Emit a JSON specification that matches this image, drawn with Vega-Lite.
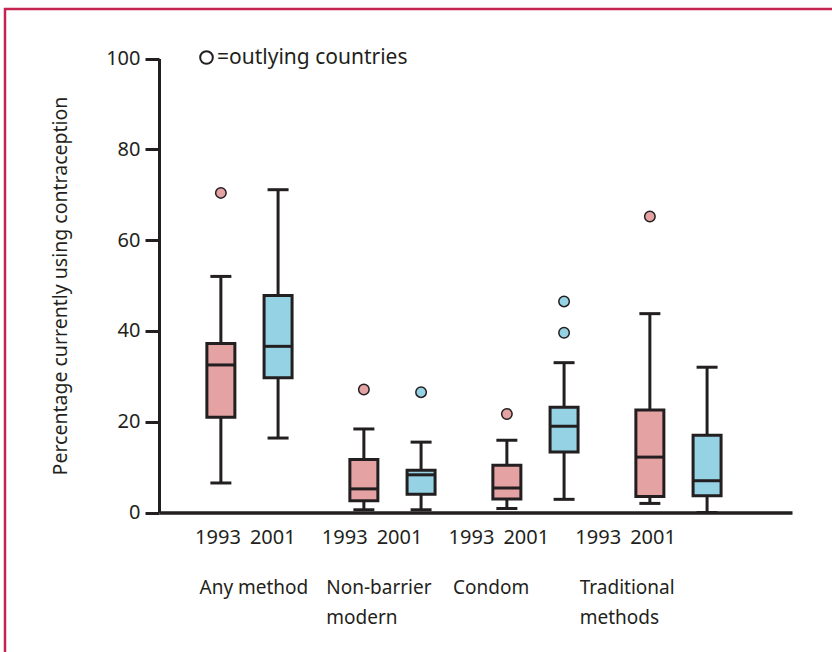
{
  "$schema": "https://vega.github.io/schema/vega-lite/v6.json",
  "autosize": "none",
  "width": 827,
  "height": 643,
  "padding": {"left": 5, "top": 9, "right": 0, "bottom": 0},
  "background": "white",
  "config": {
    "font": "Noto Sans",
    "view": {"stroke": "#c5234f", "strokeWidth": 2.5, "strokeDash": [827, 1470, 643]}
  },
  "datasets": {
    "boxes": [
      {"group": "Any method", "year": "1993", "lower": 6.5, "q1": 21.0, "median": 32.5, "q3": 37.2, "upper": 52.0},
      {"group": "Any method", "year": "2001", "lower": 16.4, "q1": 29.7, "median": 36.6, "q3": 47.8, "upper": 71.1},
      {"group": "Non-barrier modern", "year": "1993", "lower": 0.6, "q1": 2.6, "median": 5.2, "q3": 11.7, "upper": 18.4},
      {"group": "Non-barrier modern", "year": "2001", "lower": 0.6, "q1": 4.0, "median": 8.3, "q3": 9.3, "upper": 15.5},
      {"group": "Condom", "year": "1993", "lower": 0.9, "q1": 3.0, "median": 5.4, "q3": 10.4, "upper": 15.9},
      {"group": "Condom", "year": "2001", "lower": 2.9, "q1": 13.3, "median": 19.0, "q3": 23.2, "upper": 33.0},
      {"group": "Traditional methods", "year": "1993", "lower": 2.0, "q1": 3.5, "median": 12.2, "q3": 22.6, "upper": 43.8},
      {"group": "Traditional methods", "year": "2001", "lower": 0, "q1": 3.7, "median": 7.0, "q3": 17.0, "upper": 32.0}
    ],
    "outliers": [
      {"group": "Any method", "year": "1993", "value": 70.4},
      {"group": "Non-barrier modern", "year": "1993", "value": 27.1},
      {"group": "Non-barrier modern", "year": "2001", "value": 26.5},
      {"group": "Condom", "year": "1993", "value": 21.7},
      {"group": "Condom", "year": "2001", "value": 46.5},
      {"group": "Condom", "year": "2001", "value": 39.6},
      {"group": "Traditional methods", "year": "1993", "value": 65.2}
    ],
    "groups": [
      {"group": "Any method", "label": "Any method"},
      {"group": "Non-barrier modern", "label": "Non-barrier\nmodern"},
      {"group": "Condom", "label": "Condom"},
      {"group": "Traditional methods", "label": "Traditional\nmethods"}
    ]
  },
  "layer": [
    {
      "data": {"name": "boxes"},
      "encoding": {
        "x": {
          "field": "group", "type": "nominal",
          "scale": {"type": "band", "domain": ["Any method", "Non-barrier modern", "Condom", "Traditional methods"], "range": [154, 787], "paddingInner": 0, "paddingOuter": 0.2133, "align": 0.311},
          "axis": {"orient": "bottom", "offset": -139.5, "domainColor": "#231f20", "domainWidth": 3.5, "ticks": false, "labels": false, "title": null, "grid": false}
        },
        "xOffset": {
          "field": "year", "type": "nominal",
          "scale": {"type": "band", "domain": ["1993", "2001"], "paddingInner": 0, "paddingOuter": 0.25}
        }
      },
      "layer": [
        {
          "mark": {"type": "rule", "strokeWidth": 3, "color": "#231f20"},
          "encoding": {
            "y": {
              "field": "lower", "type": "quantitative",
              "scale": {"domain": [0, 100], "range": [503.5, 49.5], "nice": false, "zero": false},
              "axis": {"orient": "left", "offset": -154, "values": [0, 20, 40, 60, 80, 100], "grid": false, "domainColor": "#231f20", "domainWidth": 3, "tickColor": "#231f20", "tickWidth": 3, "tickSize": 14, "labelFont": "Noto Sans", "labelFontSize": 20, "labelColor": "#231f20", "labelPadding": 5, "title": "Percentage currently using contraception", "titleFont": "Noto Sans", "titleFontSize": 19.5, "titleFontWeight": "normal", "titleColor": "#231f20", "titlePadding": 35}
            },
            "y2": {"field": "upper"}
          }
        },
        {
          "mark": {"type": "tick", "orient": "horizontal", "size": 21, "thickness": 3, "color": "#231f20", "opacity": 1},
          "encoding": {"y": {"field": "lower", "type": "quantitative"}}
        },
        {
          "mark": {"type": "tick", "orient": "horizontal", "size": 21, "thickness": 3, "color": "#231f20", "opacity": 1},
          "encoding": {"y": {"field": "upper", "type": "quantitative"}}
        },
        {
          "mark": {"type": "bar", "width": 28, "stroke": "#231f20", "strokeWidth": 3, "opacity": 1},
          "encoding": {
            "y": {"field": "q1", "type": "quantitative"},
            "y2": {"field": "q3"},
            "color": {"field": "year", "type": "nominal", "scale": {"domain": ["1993", "2001"], "range": ["#e4a2a2", "#95d3e4"]}, "legend": null}
          }
        },
        {
          "mark": {"type": "tick", "orient": "horizontal", "size": 29, "thickness": 3, "color": "#231f20", "opacity": 1},
          "encoding": {"y": {"field": "median", "type": "quantitative"}}
        },
        {
          "data": {"name": "outliers"},
          "mark": {"type": "point", "filled": true, "size": 110, "stroke": "#231f20", "strokeWidth": 1.5, "opacity": 1},
          "encoding": {
            "y": {"field": "value", "type": "quantitative"},
            "color": {"field": "year", "type": "nominal", "legend": null},
            "shape": {
              "datum": "=outlying countries",
              "scale": {"range": ["circle"]},
              "legend": {"orient": "none", "legendX": 191, "legendY": 38, "title": null, "labelFont": "Noto Sans", "labelFontSize": 21, "labelColor": "#231f20", "labelLimit": 0, "symbolSize": 160, "symbolStrokeWidth": 2, "symbolFillColor": "white", "symbolStrokeColor": "#231f20", "symbolType": "circle", "labelOffset": 0, "padding": 0,
                "encode": {"symbols": {"enter": {"fill": {"value": "white"}, "stroke": {"value": "#231f20"}}, "update": {"fill": {"value": "white"}, "stroke": {"value": "#231f20"}, "strokeWidth": {"value": 2}, "opacity": {"value": 1}}}}}
            }
          }
        }
      ]
    },
    {
      "layer": [
        {
          "data": {"name": "boxes"},
          "mark": {"type": "text", "font": "Noto Sans", "fontSize": 20, "color": "#231f20", "baseline": "alphabetic", "align": "center"},
          "encoding": {
            "x": {"field": "group", "type": "nominal", "scale": {"type": "band", "domain": ["Any method", "Non-barrier modern", "Condom", "Traditional methods"], "range": [177, 684], "paddingInner": 0, "paddingOuter": 0}, "axis": null},
            "xOffset": {"field": "year", "type": "nominal", "scale": {"type": "band", "domain": ["1993", "2001"], "paddingInner": 0, "paddingOuter": 0.156}},
            "y": {"datum": -6.9, "type": "quantitative", "scale": {"domain": [0, 100], "range": [503.5, 49.5], "nice": false, "zero": false}, "axis": null},
            "text": {"field": "year"}
          }
        },
        {
          "data": {"name": "groups"},
          "mark": {"type": "text", "font": "Noto Sans", "fontSize": 19, "color": "#231f20", "baseline": "alphabetic", "align": "left", "lineBreak": "\n", "lineHeight": 30, "dx": 17.5},
          "encoding": {
            "x": {"field": "group", "type": "nominal", "bandPosition": 0, "scale": {"type": "band", "domain": ["Any method", "Non-barrier modern", "Condom", "Traditional methods"], "range": [177, 684], "paddingInner": 0, "paddingOuter": 0}, "axis": null},
            "y": {"datum": -17.9, "type": "quantitative", "scale": {"domain": [0, 100], "range": [503.5, 49.5], "nice": false, "zero": false}, "axis": null},
            "text": {"field": "label"}
          }
        }
      ]
    }
  ],
  "resolve": {
    "scale": {"x": "independent", "xOffset": "independent", "y": "independent"},
    "axis": {"x": "independent", "y": "independent"}
  }
}
